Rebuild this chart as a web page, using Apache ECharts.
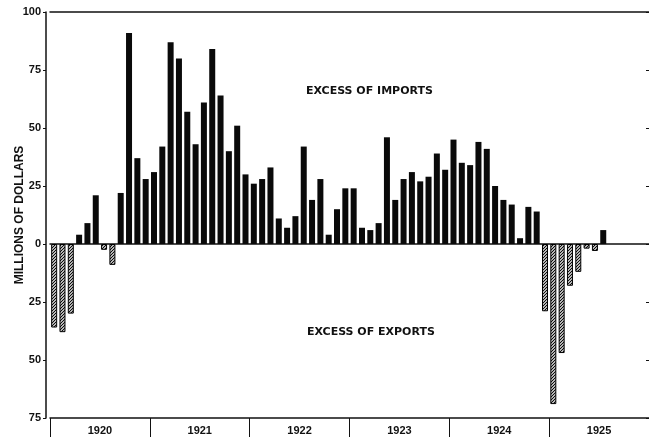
<!DOCTYPE html>
<html>
<head>
<meta charset="utf-8">
<script src="https://cdn.jsdelivr.net/npm/echarts@6/dist/echarts.min.js"></script>
<style>
  html, body { margin: 0; padding: 0; background: #fff; }
  #chart { width: 649px; height: 437px; }
</style>
</head>
<body>
<div id="chart"></div>
<script>
// monthly trade balance, millions of dollars (+ imports exceed, - exports exceed)
const years = ['1920', '1921', '1922', '1923', '1924', '1925']
const v1920 = [-36, -38, -30, 4, 9, 21, -2.5, -9, 22, 91, 37, 28]
const v1921 = [31, 42, 87, 80, 57, 43, 61, 84, 64, 40, 51, 30]
const v1922 = [26, 28, 33, 11, 7, 12, 42, 19, 28, 4, 15, 24]
const v1923 = [24, 7, 6, 9, 46, 19, 28, 31, 27, 29, 39, 32]
const v1924 = [45, 35, 34, 44, 41, 25, 19, 17, 2.5, 16, 14, -29]
const v1925 = [-69, -47, -18, -12, -2, -3, 6]
const yTicks = [-75, -50, -25, 0, 25, 50, 75, 100]

const values = [...v1920, ...v1921, ...v1922, ...v1923, ...v1924, ...v1925]
const months = []
years.forEach(y => { for (let m = 1; m <= 12; m++) months.push(y + '-' + m) })

const imports = values.map(v => (v > 0 ? v : '-'))
const exports = values.map(v => (v < 0 ? v : '-'))

// diagonal hatching for the export bars
const hatch = document.createElement('canvas')
hatch.width = 3
hatch.height = 3
const hc = hatch.getContext('2d')
hc.fillStyle = '#fff'
hc.fillRect(0, 0, 3, 3)
hc.strokeStyle = '#000'
hc.lineWidth = 1.1
hc.beginPath()
hc.moveTo(0, 3); hc.lineTo(3, 0)
hc.moveTo(-1, 1); hc.lineTo(1, -1)
hc.moveTo(2, 4); hc.lineTo(4, 2)
hc.stroke()

const ink = '#111'
const font = 'Liberation Sans, Arial, sans-serif'

const chart = echarts.init(document.getElementById('chart'))
chart.setOption({
  backgroundColor: '#fff',
  animation: false,
  grid: { left: 50, right: 0, top: 12, bottom: 19, containLabel: false, outerBoundsMode: 'none' },
  xAxis: [
    {
      type: 'category',
      data: months,
      axisLine: { onZero: true, lineStyle: { color: ink, width: 1.5 } },
      axisTick: { show: false },
      axisLabel: { show: false }
    },
    {
      type: 'category',
      data: years,
      position: 'bottom',
      axisLine: { onZero: false, lineStyle: { color: ink, width: 1.5 } },
      axisTick: { show: true, length: 19, lineStyle: { color: ink, width: 1 } },
      axisLabel: { margin: 7, color: ink, fontFamily: font, fontWeight: 'bold', fontSize: 11 }
    },
    {
      type: 'category',
      data: years,
      position: 'top',
      axisLine: { onZero: false, lineStyle: { color: ink, width: 1.5 } },
      axisTick: { show: false },
      axisLabel: { show: false }
    }
  ],
  yAxis: [
    {
      type: 'value',
      min: yTicks[0],
      max: yTicks[yTicks.length - 1],
      interval: 25,
      offset: 4,
      name: 'MILLIONS OF DOLLARS',
      nameLocation: 'middle',
      nameGap: 20,
      nameMoveOverlap: false,
      nameTextStyle: { color: ink, fontFamily: font, fontWeight: 'bold', fontSize: 12 },
      splitLine: { show: false },
      axisLine: { show: true, lineStyle: { color: ink, width: 1.5 } },
      axisTick: { show: true, length: 3, lineStyle: { color: ink } },
      axisLabel: {
        margin: 5,
        color: ink,
        fontFamily: font,
        fontWeight: 'bold',
        fontSize: 11,
        formatter: v => Math.abs(v)
      }
    },
    {
      type: 'value',
      position: 'right',
      min: yTicks[0],
      max: yTicks[yTicks.length - 1],
      interval: 25,
      splitLine: { show: false },
      axisLine: { show: false },
      axisTick: { show: true, inside: true, length: 3, lineStyle: { color: ink } },
      axisLabel: { show: false }
    }
  ],
  graphic: [
    {
      type: 'text', left: 306, top: 86,
      style: { text: 'EXCESS OF IMPORTS', fill: ink, font: 'bold 11px "DejaVu Sans", sans-serif' }
    },
    {
      type: 'text', left: 307, top: 327,
      style: { text: 'EXCESS OF EXPORTS', fill: ink, font: 'bold 11px "DejaVu Sans", sans-serif' }
    }
  ],
  series: [
    {
      name: 'Excess of imports',
      type: 'bar',
      data: imports,
      barWidth: 6,
      barGap: '-100%',
      itemStyle: { color: '#0a0a0a' }
    },
    {
      name: 'Excess of exports',
      type: 'bar',
      data: exports,
      barWidth: 6,
      barGap: '-100%',
      itemStyle: {
        color: { image: hatch, repeat: 'repeat' },
        borderColor: '#000',
        borderWidth: 1
      }
    }
  ]
})
</script>
</body>
</html>
